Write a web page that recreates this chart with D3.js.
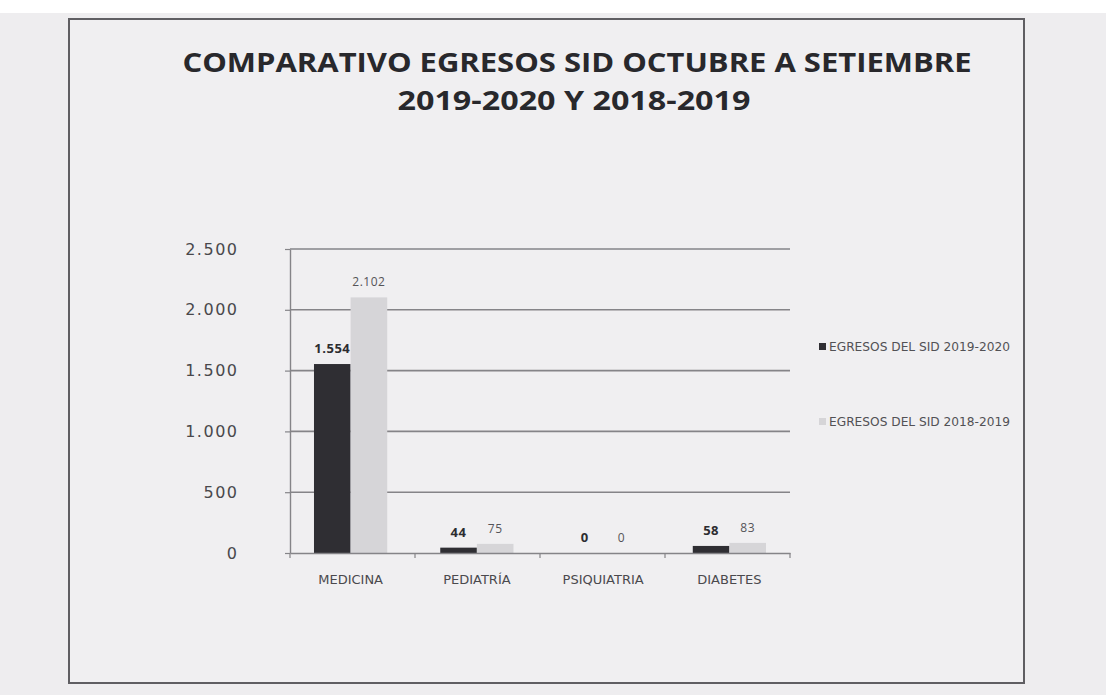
<!DOCTYPE html>
<html>
<head>
<meta charset="utf-8">
<script src="https://cdn.jsdelivr.net/npm/d3@7"></script>
<style>
  html, body { margin: 0; padding: 0; background: #f4f3f4; }
  svg { display: block; }
</style>
</head>
<body>
<svg id="chart" width="1106" height="695"></svg>
<script>
// Egresos SID by service, two periods
const categories = ["MEDICINA", "PEDIATRÍA", "PSIQUIATRIA", "DIABETES"];
const seriesNames = ["EGRESOS DEL SID 2019-2020", "EGRESOS DEL SID 2018-2019"];
const egresos2019_2020 = [1554, 44, 0, 58];
const egresos2018_2019 = [2102, 75, 0, 83];
const yTicks = [0, 500, 1000, 1500, 2000, 2500];
const titleLines = ["COMPARATIVO EGRESOS SID OCTUBRE A SETIEMBRE", "2019-2020 Y 2018-2019"];

const seriesValues = [egresos2019_2020, egresos2018_2019];
const seriesColors = ["#2f2e33", "#d6d5d8"];

const locale = d3.formatLocale({ decimal: ",", thousands: ".", grouping: [3], currency: ["", "$"] });
const fmt = locale.format(",d");

const svg = d3.select("#chart");
const W = 1106, H = 695;
const font = "'Open Sans', 'Noto Sans', sans-serif";
const wideFont = "'DejaVu Sans', 'Open Sans', sans-serif";

// page background and frame
svg.append("rect").attr("width", W).attr("height", H).attr("fill", "#eeedef");
svg.append("rect").attr("width", W).attr("height", 13).attr("fill", "#ffffff");
svg.append("rect")
  .attr("x", 69).attr("y", 19).attr("width", 955).attr("height", 664)
  .attr("fill", "#f0eff1").attr("stroke", "#5f5e62").attr("stroke-width", 2);

// title, set in a condensed bold face
const titleY = [72, 110];
const titleX = [577, 574];
const titleW = [789, 353];
titleLines.forEach((line, i) => {
  svg.append("text")
    .attr("x", titleX[i]).attr("y", titleY[i])
    .attr("text-anchor", "middle")
    .attr("font-family", font).attr("font-weight", 700).attr("font-size", 27.5)
    .attr("fill", "#28282c")
    .attr("textLength", titleW[i]).attr("lengthAdjust", "spacingAndGlyphs")
    .text(line);
});

// plot area
const plot = { left: 290, right: 790, top: 249, bottom: 553 };
const x0 = d3.scaleBand().domain(categories).range([plot.left, plot.right]).paddingInner(0.42).paddingOuter(0.19);
const x1 = d3.scaleBand().domain([0, 1]).range([0, x0.bandwidth()]);
const y = d3.scaleLinear().domain([0, 2500]).range([plot.bottom, plot.top]);

const g = svg.append("g");
const axisColor = "#858488";

// horizontal gridlines
g.append("g")
  .selectAll("line")
  .data(yTicks.filter(d => d > 0))
  .join("line")
  .attr("x1", plot.left).attr("x2", plot.right)
  .attr("y1", d => y(d)).attr("y2", d => y(d))
  .attr("stroke", axisColor).attr("stroke-width", 1.6);

// y axis: line, short outside ticks, labels
const ySpacing = 1.5;
const yAxis = d3.axisLeft(y).tickValues(yTicks).tickFormat(fmt).tickSizeInner(5).tickSizeOuter(0).tickPadding(48);
const yg = g.append("g").attr("transform", `translate(${plot.left},0)`).call(yAxis);
yg.select(".domain").attr("stroke", axisColor).attr("stroke-width", 1.4);
yg.selectAll(".tick line").attr("stroke", axisColor).attr("stroke-width", 1.2);
yg.selectAll("text")
  .attr("font-family", wideFont).attr("font-size", 16).attr("fill", "#49484c")
  .attr("letter-spacing", ySpacing)
  .attr("dx", ySpacing);

// bars
const groups = g.append("g").selectAll("g")
  .data(categories)
  .join("g")
  .attr("transform", d => `translate(${x0(d)},0)`);

groups.selectAll("rect")
  .data((d, i) => seriesValues.map((vals, s) => ({ s, v: vals[i] })))
  .join("rect")
  .attr("x", d => x1(d.s))
  .attr("width", x1.bandwidth())
  .attr("y", d => y(d.v))
  .attr("height", d => y(0) - y(d.v))
  .attr("fill", d => seriesColors[d.s]);

// value labels
groups.selectAll("text")
  .data((d, i) => seriesValues.map((vals, s) => ({ s, v: vals[i] })))
  .join("text")
  .attr("x", d => x1(d.s) + x1.bandwidth() / 2)
  .attr("y", d => y(d.v) - 11)
  .attr("text-anchor", "middle")
  .attr("font-family", font)
  .attr("font-size", d => d.s === 0 ? 13 : 12)
  .attr("font-weight", d => d.s === 0 ? 700 : 400)
  .attr("letter-spacing", 0.5)
  .attr("fill", d => d.s === 0 ? "#2c2c30" : "#555458")
  .text(d => fmt(d.v));

// x axis baseline and category labels
const xAxis = d3.axisBottom(x0).tickSize(0).tickPadding(22);
const xg = g.append("g").attr("transform", `translate(0,${plot.bottom})`).call(xAxis);
xg.select(".domain").attr("stroke", axisColor).attr("stroke-width", 1.6);
xg.selectAll("text")
  .attr("font-family", wideFont).attr("font-size", 13).attr("fill", "#4a494d");

// tick marks between categories
const boundaries = d3.range(categories.length + 1).map(i => plot.left + i * (plot.right - plot.left) / categories.length);
g.append("g").selectAll("line")
  .data(boundaries)
  .join("line")
  .attr("x1", d => d).attr("x2", d => d)
  .attr("y1", plot.bottom).attr("y2", plot.bottom + 5)
  .attr("stroke", axisColor).attr("stroke-width", 1.2);

// legend
const legend = svg.append("g").attr("transform", "translate(819,0)");
const legendY = [347, 422];
seriesNames.forEach((name, i) => {
  legend.append("rect")
    .attr("x", 0).attr("y", legendY[i] - 4).attr("width", 7).attr("height", 7)
    .attr("fill", seriesColors[i]);
  legend.append("text")
    .attr("x", 10).attr("y", legendY[i] + 4)
    .attr("font-family", wideFont).attr("font-size", 12.2).attr("fill", "#525155")
    .text(name);
});
</script>
</body>
</html>
